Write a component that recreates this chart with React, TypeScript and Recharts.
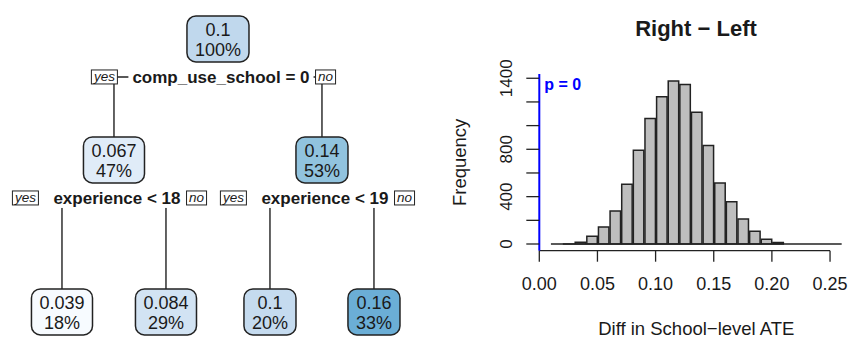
import React from 'react';
import { ScatterChart, Scatter, XAxis, YAxis, BarChart, Bar, ReferenceLine } from 'recharts';

// regression tree (rpart numbering: children of n are 2n and 2n+1)
const nodeIds = [1, 2, 3, 4, 5, 6, 7];
const nodeMeans = [0.1, 0.067, 0.14, 0.039, 0.084, 0.1, 0.16];
const nodeShares = [100, 47, 53, 18, 29, 20, 33];
const splitNodes = [1, 2, 3];
const splitLabels = ['comp_use_school = 0', 'experience < 18', 'experience < 19'];

// bootstrap histogram
const binEdges = [0.01, 0.02, 0.03, 0.04, 0.05, 0.06, 0.07, 0.08, 0.09, 0.1, 0.11, 0.12, 0.13,
    0.14, 0.15, 0.16, 0.17, 0.18, 0.19, 0.2, 0.21, 0.22, 0.23, 0.24, 0.25, 0.26];
const binCounts = [0, 1, 14, 66, 144, 278, 505, 792, 1060, 1243, 1376, 1348, 1112,
    833, 516, 357, 211, 108, 40, 13, 0, 0, 0, 0, 0];
const xTicks = [0, 0.05, 0.1, 0.15, 0.2, 0.25];
const yTicks = [0, 200, 400, 600, 800, 1000, 1200, 1400];
const yTickLabels = [0, 400, 800, 1400];

const FONT = '"Liberation Sans", Arial, Helvetica, sans-serif';
const INK = '#1a1a1a';

let ctx: CanvasRenderingContext2D | null = null;
const textWidth = (s: string, font: string) => {
    if (!ctx) ctx = document.createElement('canvas').getContext('2d');
    if (!ctx) return s.length * 9;
    ctx.font = font;
    return ctx.measureText(s).width;
};

// tree layout (leaves fall to the bottom row)
const TREE_X_DOMAIN = [-0.596, 3.635];
const TREE_Y_DOMAIN = [-0.322, 2.488];
const FALLEN_ROW = 2.256;
const LABEL_ROW = 0.314;

const idx = (id: number) => nodeIds.indexOf(id);
const isLeaf = (id: number) => idx(id * 2) < 0;

const treePos: Record<number, { x: number; row: number }> = {};
let leafCount = 0;
const layout = (id: number, depth: number): number => {
    if (isLeaf(id)) {
        treePos[id] = { x: leafCount++, row: FALLEN_ROW };
        return treePos[id].x;
    }
    const l = layout(id * 2, depth + 1);
    const r = layout(id * 2 + 1, depth + 1);
    treePos[id] = { x: (l + r) / 2, row: depth };
    return treePos[id].x;
};
layout(1, 0);

// mean used for colouring: leaves use their own, splits use share-weighted children
const colourMean = (id: number): number => {
    if (isLeaf(id)) return nodeMeans[idx(id)];
    const a = id * 2, b = id * 2 + 1;
    const sa = nodeShares[idx(a)], sb = nodeShares[idx(b)];
    return (colourMean(a) * sa + colourMean(b) * sb) / (sa + sb);
};

const blues = ['#f7fbff', '#deebf7', '#c6dbef', '#9ecae1', '#6baed6'];
const leafMeans = nodeIds.filter(isLeaf).map((id) => nodeMeans[idx(id)]);
const vMin = Math.min(...leafMeans);
const vMax = Math.max(...leafMeans);
const hex = (c: string) => [1, 3, 5].map((i) => parseInt(c.slice(i, i + 2), 16));
const blueFor = (v: number) => {
    const t = Math.max(0, Math.min(1, (v - vMin) / (vMax - vMin))) * (blues.length - 1);
    const i = Math.min(Math.floor(t), blues.length - 2);
    const f = t - i;
    const a = hex(blues[i]), b = hex(blues[i + 1]);
    const c = a.map((v0, k) => Math.round(v0 + (b[k] - v0) * f));
    return `rgb(${c[0]},${c[1]},${c[2]})`;
};

const treeNodes = nodeIds.map((id, i) => ({
    id,
    x: treePos[id].x,
    y: treePos[id].row,
    mean: nodeMeans[i],
    share: nodeShares[i],
    split: splitNodes.includes(id) ? splitLabels[splitNodes.indexOf(id)] : null,
    fill: blueFor(colourMean(id)),
}));

const treeEdges = splitNodes.map((id) => {
    const l = treePos[id * 2], r = treePos[id * 2 + 1];
    const ly = treePos[id].row + LABEL_ROW;
    return [
        { x: l.x, y: l.row },
        { x: l.x, y: ly },
        { x: r.x, y: ly },
        { x: r.x, y: r.row },
    ];
});

const histData = binCounts.map((count, i) => ({
    mid: (binEdges[i] + binEdges[i + 1]) / 2,
    count,
}));

const YesNo = ({ x, y, text }: { x: number; y: number; text: string }) => {
    const w = textWidth(text, `italic 13.5px ${FONT}`) + 5;
    return (
        <g>
            <rect x={x} y={y - 7} width={w} height={14} fill="#fff" stroke="#222" strokeWidth={1} />
            <text x={x + w / 2} y={y + 4.5} textAnchor="middle" fontSize={13.5} fontStyle="italic" fill={INK}>
                {text}
            </text>
        </g>
    );
};

const TreeNode = (props: any) => {
    const { cx, cy, payload } = props;
    const top = String(payload.mean);
    const bottom = `${payload.share}%`;
    const nodeFont = `18px ${FONT}`;
    const w = Math.max(textWidth(top, nodeFont), textWidth(bottom, nodeFont)) + 16;
    const h = 46;
    let split = null;
    if (payload.split) {
        const tw = textWidth(payload.split, `bold 17px ${FONT}`);
        const lx = cx + 3;
        const ly = cy + 38;
        const yesW = textWidth('yes', `italic 13.5px ${FONT}`) + 5;
        split = (
            <g>
                <rect x={lx - tw / 2 - 4} y={ly - 10} width={tw + 8} height={20} fill="#fff" />
                <text x={lx} y={ly + 6} textAnchor="middle" fontSize={17} fontWeight="bold" fill={INK}>
                    {payload.split}
                </text>
                <YesNo x={lx - tw / 2 - 15 - yesW} y={ly} text="yes" />
                <YesNo x={lx + tw / 2 + 6} y={ly} text="no" />
            </g>
        );
    }
    return (
        <g>
            {split}
            <rect x={cx - w / 2} y={cy - h / 2} width={w} height={h} rx={9} ry={9}
                fill={payload.fill} stroke="#222" strokeWidth={1.5} />
            <text x={cx} y={cy - 3} textAnchor="middle" fontSize={18} fill={INK}>{top}</text>
            <text x={cx} y={cy + 17} textAnchor="middle" fontSize={18} fill={INK}>{bottom}</text>
        </g>
    );
};

const FreqTick = (props: any) => {
    const { x, y, payload } = props;
    if (!yTickLabels.includes(payload.value)) return <g />;
    const bx = x - 12;
    return (
        <text x={bx} y={y} transform={`rotate(-90, ${bx}, ${y})`} textAnchor="middle" fontSize={17} fill={INK}>
            {payload.value}
        </text>
    );
};

const Y_MIN = -56.6;

export default function App() {
    return (
        <div style={{ position: 'absolute', left: 0, top: 0, width: 850, height: 340, overflow: 'hidden', background: '#fff', fontFamily: FONT }}>
            <div style={{ position: 'absolute', left: 0, top: 0 }}>
                <ScatterChart width={440} height={340} margin={{ top: 0, right: 0, bottom: 0, left: 0 }}>
                    <XAxis type="number" dataKey="x" domain={TREE_X_DOMAIN} allowDataOverflow hide />
                    <YAxis type="number" dataKey="y" domain={TREE_Y_DOMAIN} allowDataOverflow reversed hide />
                    {treeEdges.map((pts, i) => (
                        <Scatter key={i} data={pts} fill="#222" line={{ stroke: '#222', strokeWidth: 1.4 }}
                            shape={() => <g />} isAnimationActive={false} />
                    ))}
                    <Scatter data={treeNodes} shape={TreeNode} isAnimationActive={false} />
                </ScatterChart>
            </div>
            <div style={{ position: 'absolute', left: 440, top: 0 }}>
                <BarChart width={414} height={340} data={histData} margin={{ top: 74, right: 0.7, bottom: 0, left: 0 }}>
                    <XAxis type="number" dataKey="mid" domain={[0, 0.27]} allowDataOverflow ticks={xTicks} interval={0}
                        tickFormatter={(v: number) => v.toFixed(2)} axisLine={false} tickSize={11} tickMargin={16}
                        tickLine={{ stroke: '#222', strokeWidth: 1.3 }} tick={{ fontSize: 18, fill: INK }} height={89.3}
                        label={{ value: 'Diff in School\u2212level ATE', position: 'insideBottom', offset: 5, fontSize: 18.5, fill: INK }} />
                    <YAxis type="number" domain={[Y_MIN, 1436]} allowDataOverflow ticks={yTicks} interval={0}
                        axisLine={false} tickSize={13} tickLine={{ stroke: '#222', strokeWidth: 1.3 }} tick={<FreqTick />}
                        width={99.3}
                        label={{ value: 'Frequency', angle: -90, position: 'insideLeft', offset: 19, fontSize: 18.5, fill: INK, style: { textAnchor: 'middle' } }} />
                    <ReferenceLine segment={[{ x: 0, y: Y_MIN }, { x: 0.25, y: Y_MIN }]} stroke="#222" strokeWidth={1.3} ifOverflow="visible" />
                    <ReferenceLine segment={[{ x: binEdges[0], y: 0 }, { x: binEdges[binEdges.length - 1], y: 0 }]} stroke="#222" strokeWidth={1.4} ifOverflow="visible" />
                    <Bar dataKey="count" fill="#bebebe" stroke="#222" strokeWidth={1.5} barSize={11.63} isAnimationActive={false} />
                    <ReferenceLine x={0} stroke="#0000ff" strokeWidth={2} ifOverflow="visible"
                        label={{ value: 'p = 0', position: 'insideTopLeft', offset: 5, fill: '#0000ff', fontSize: 16, fontWeight: 'bold' }} />
                </BarChart>
            </div>
            <svg width={850} height={340} style={{ position: 'absolute', left: 0, top: 0, pointerEvents: 'none' }}>
                <text x={696} y={35.7} textAnchor="middle" fontSize={22} fontWeight="bold" fill={INK}>
                    Right {'\u2212'} Left
                </text>
            </svg>
        </div>
    );
}
